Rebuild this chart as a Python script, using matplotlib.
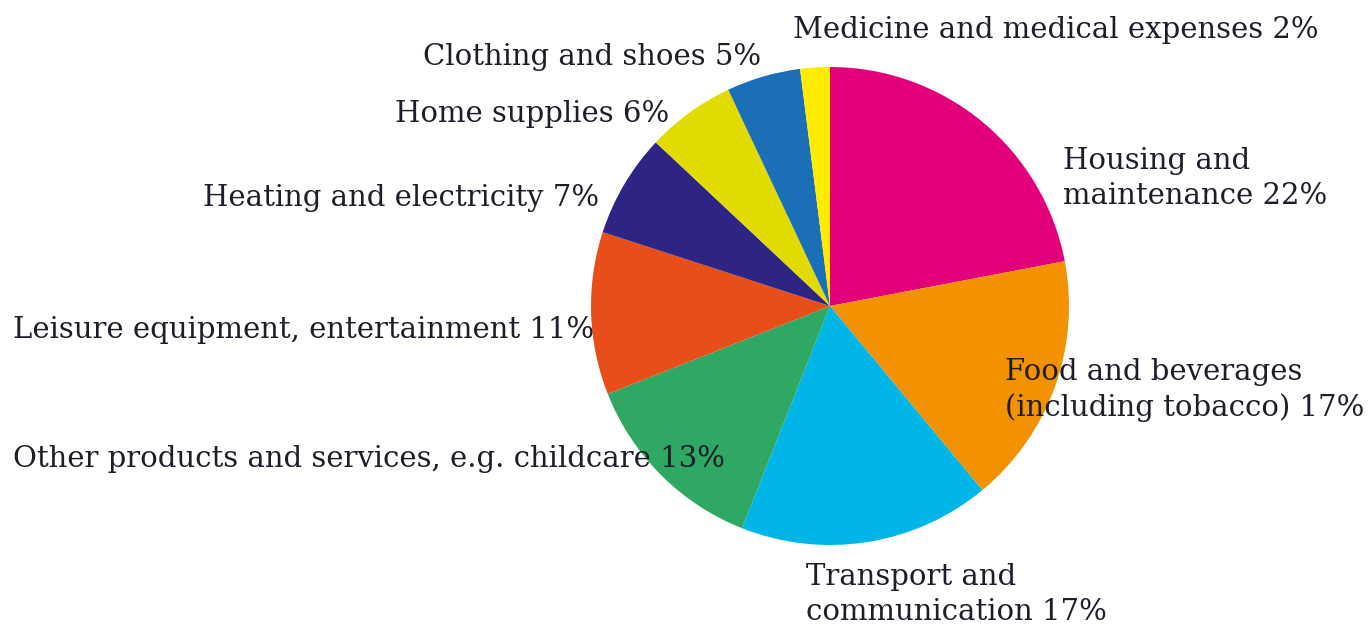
import matplotlib
matplotlib.use("Agg")
import matplotlib.pyplot as plt

categories = ["Housing and maintenance", "Food and beverages (including tobacco)",
              "Transport and communication", "Other products and services, e.g. childcare",
              "Leisure equipment, entertainment", "Heating and electricity",
              "Home supplies", "Clothing and shoes", "Medicine and medical expenses"]
values = [22, 17, 17, 13, 11, 7, 6, 5, 2]
labels = ["Housing and\nmaintenance 22%", "Food and beverages\n(including tobacco) 17%",
          "Transport and\ncommunication 17%", "Other products and services, e.g. childcare 13%",
          "Leisure equipment, entertainment 11%", "Heating and electricity 7%",
          "Home supplies 6%", "Clothing and shoes 5%", "Medicine and medical expenses 2%"]
colors = ["#E3007B", "#F39200", "#00B6E8", "#2EA863", "#E74E1A", "#2E2483",
          "#E1DB00", "#1B6FB7", "#FFEC00"]

W, H = 1371, 624
fig = plt.figure(figsize=(W / 100, H / 100), dpi=100)
ax = fig.add_axes([0, 0, 1, 1])

cx, cy, r = 830, H - 306, 239
ax.pie(values, colors=colors, startangle=90, counterclock=False,
       center=(cx, cy), radius=r, frame=True,
       wedgeprops=dict(linewidth=0))
ax.set_xlim(0, W)
ax.set_ylim(0, H)
ax.axis("off")

# label placement (pixels from top-left): x of left edge, baseline y of last line
pos = [(1063, 204), (1005, 416), (806, 620), (13, 467), (13, 338),
       (203, 206), (395, 122), (423, 65), (793, 38)]
fp = dict(family="DejaVu Serif", fontsize=21, color="#1e1e2a")
for lab, (px, py) in zip(labels, pos):
    ax.text(px, H - py, lab, ha="left", va="baseline", linespacing=1.33, **fp)

fig.savefig("out.png", dpi=100)
